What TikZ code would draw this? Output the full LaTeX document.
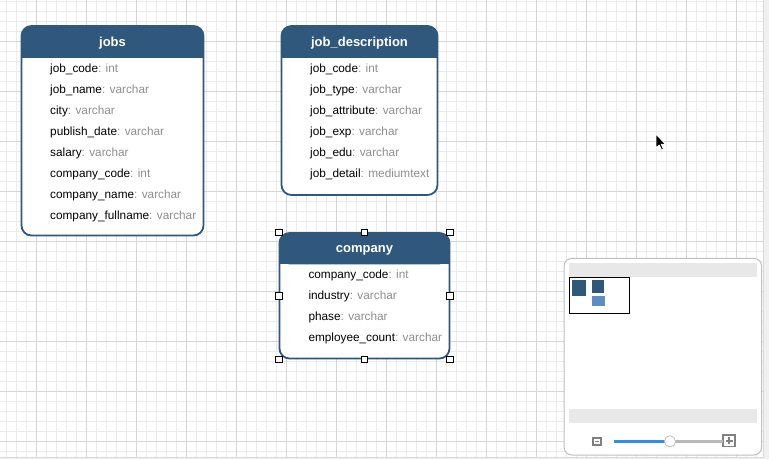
\documentclass[tikz,border=0pt]{standalone}
\usepackage{fontspec}
\setmainfont{Liberation Sans}
\definecolor{headblue}{HTML}{30587C}
\definecolor{minilight}{HTML}{5B8FBF}
\definecolor{typegray}{HTML}{8E8E8E}
\definecolor{gridminor}{HTML}{EBEBEB}
\definecolor{gridmajor}{HTML}{D6D6D6}
\definecolor{barsgray}{HTML}{E8E8E8}
\definecolor{sliderblue}{HTML}{2F8CF2}
\newcommand\fld[2]{#1\textcolor{typegray}{: #2}}
\tikzset{
  minorline/.style={gridminor, line width=1pt},
  majorline/.style={gridmajor, line width=1pt},
  tableframe/.style={draw=headblue, fill=white, line width=1.8pt, rounded corners=10pt, inner sep=0pt},
  headtitle/.style={anchor=base, text=white, inner sep=0pt, font=\fontsize{13}{15}\selectfont\bfseries},
  fieldname/.style={anchor=base west, inner sep=0pt, font=\fontsize{11.8}{14}\selectfont},
  handle/.style={draw=black, fill=white, line width=0.8pt, minimum size=6.5pt, inner sep=0pt},
}
\begin{document}
\begin{tikzpicture}[x=1pt,y=-1pt]
    \useasboundingbox (0,0) rectangle (769,459);
    % grid of the canvas
    \foreach \x in {6.7,16.7,...,760} \draw[minorline] (\x,0) -- (\x,457);
    \foreach \y in {1.7,11.7,...,455} \draw[minorline] (0,\y) -- (763,\y);
    \foreach \x in {36.7,86.7,...,760} \draw[majorline] (\x,0) -- (\x,457);
    \foreach \y in {41.7,91.7,...,455} \draw[majorline] (0,\y) -- (763,\y);
    \fill[gray!12] (763,0) rectangle (769,459);
    \fill[gray!12] (0,457) rectangle (763,459);
    \draw[gray!30] (763,0) -- (763,457) -- (0,457);

    % jobs
    \node[tableframe, minimum width=182pt, minimum height=209.5pt] (jobs) at (112.5,130.75) {};
    \fill[headblue, rounded corners=10pt] (21.5,26) rectangle (203.5,57.5);
    \fill[headblue] (21.5,45) rectangle (203.5,57.5);
    \node[headtitle] (jobs-title) at (112.5,46.3) {jobs};
    \foreach \f [count=\i] in {\fld{job\_code}{int}, \fld{job\_name}{varchar}, \fld{city}{varchar},
        \fld{publish\_date}{varchar}, \fld{salary}{varchar}, \fld{company\_code}{int},
        \fld{company\_name}{varchar}, \fld{company\_fullname}{varchar}}
        \node[fieldname] (jobs-\i) at (50,51+21*\i) {\f};

    % job_description
    \node[tableframe, minimum width=156pt, minimum height=169pt] (desc) at (359.5,110.5) {};
    \fill[headblue, rounded corners=10pt] (281.5,26) rectangle (437.5,57.5);
    \fill[headblue] (281.5,45) rectangle (437.5,57.5);
    \node[headtitle] (desc-title) at (359.5,46.3) {job\_description};
    \foreach \f [count=\i] in {\fld{job\_code}{int}, \fld{job\_type}{varchar}, \fld{job\_attribute}{varchar},
        \fld{job\_exp}{varchar}, \fld{job\_edu}{varchar}, \fld{job\_detail}{mediumtext}}
        \node[fieldname] (desc-\i) at (310,51+21*\i) {\f};

    % company (selected)
    \node[tableframe, minimum width=170pt, minimum height=125.5pt] (company) at (364.5,295.75) {};
    \fill[headblue, rounded corners=10pt] (279.5,233) rectangle (449.5,264.3);
    \fill[headblue] (279.5,250) rectangle (449.5,264.3);
    \node[headtitle] (company-title) at (364.5,252.8) {company};
    \foreach \f [count=\i] in {\fld{company\_code}{int}, \fld{industry}{varchar}, \fld{phase}{varchar},
        \fld{employee\_count}{varchar}}
        \node[fieldname] (company-\i) at (308.3,257.8+21*\i) {\f};
    \foreach \x/\y [count=\i] in {279/232.3, 364.5/232.3, 450/232.3, 279/296, 450/296,
        279/359.3, 364.5/359.3, 450/359.3}
        \node[handle] (h\i) at (\x,\y) {};

    % mouse pointer
    \filldraw[fill=black, draw=white, line width=0.9pt, line join=round] (656,134) -- ++(0,14) -- ++(3.2,-3)
        -- ++(2.3,5) -- ++(2,-0.9) -- ++(-2.2,-4.8) -- ++(4.3,0) -- cycle;

    % outline panel
    \filldraw[fill=white, draw=gray!50, line width=1pt, rounded corners=8pt] (564,258.3) rectangle (761.7,455);
    \fill[barsgray] (569,263.3) rectangle (756.7,276.7);
    \fill[barsgray] (569,409.3) rectangle (756.7,422.7);
    \filldraw[fill=headblue, draw=white, line width=0.5pt] (571,279.3) rectangle (586.3,296.7);
    \filldraw[fill=headblue, draw=white, line width=0.5pt] (591,279.3) rectangle (604.3,293.3);
    \filldraw[fill=minilight, draw=white, line width=0.5pt] (591.7,295.7) rectangle (605.7,306);
    \draw[black, line width=1pt] (569.3,277.3) rectangle (629.3,313.3);
    \draw[gray, line width=1.8pt] (593.2,437.6) rectangle (600.8,445.1);
    \draw[gray, line width=1.4pt] (595,441.3) -- (599,441.3);
    \draw[gray, line width=1.8pt] (723.2,435.2) rectangle (734.8,446.4);
    \draw[gray, line width=1.8pt] (725.5,440.8) -- (732.5,440.8) (729,437.3) -- (729,444.3);
    \draw[sliderblue, line width=2.4pt] (614,441.3) -- (670,441.3);
    \draw[gray!55, line width=2.4pt] (670,441.3) -- (723,441.3);
    \filldraw[fill=white, draw=gray!50, line width=0.8pt] (670,441.3) circle (5.6);
\end{tikzpicture}
\end{document}
